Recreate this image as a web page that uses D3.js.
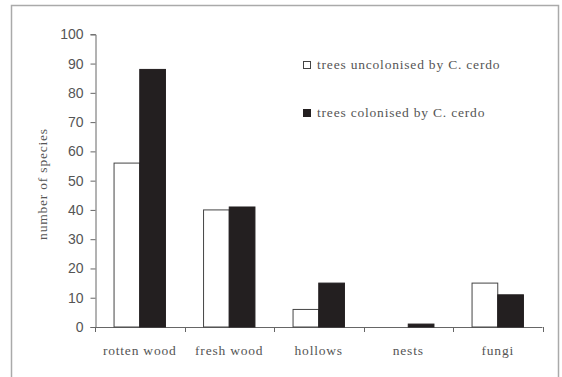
<html>
<head>
  <meta charset="utf-8" />
  <script src="https://cdnjs.cloudflare.com/ajax/libs/d3/7.8.5/d3.min.js"></script>
  <style>
    body { margin: 0; background: #fff; }
    .yaxis path.domain, .xaxis path.domain { stroke: #666; }
    .yaxis .tick line, .xaxis .tick line { stroke: #666; }
    .yaxis .tick text { fill: #555; font-family: "Liberation Sans", Arial, sans-serif; font-size: 14px; }
    .serif { font-family: "Liberation Serif", "Times New Roman", serif; font-size: 13.5px; letter-spacing: 0.8px; fill: #555; }
  </style>
</head>
<body>
  <svg></svg>
  <script>
  var categories = ["rotten wood", "fresh wood", "hollows", "nests", "fungi"];
  var uncolonised = [56, 40, 6, 0, 15];
  var colonised = [88, 41, 15, 1, 11];
  var yTicks = [0, 10, 20, 30, 40, 50, 60, 70, 80, 90, 100];
  var seriesNames = ["trees uncolonised by C. cerdo", "trees colonised by C. cerdo"];

  var svg = d3.select("svg").attr("width", 562).attr("height", 377);

  // outer frame, open at the bottom
  svg.append("path")
      .attr("d", "M11.5,380 V5.5 H558.5 V380")
      .attr("fill", "none")
      .attr("stroke", "#aaa")
      .attr("stroke-width", 1.5);

  var xScale = d3.scaleBand().domain(categories).range([95, 542.5]);
  var yScale = d3.scaleLinear().domain([0, 100]).range([327, 34.3]);
  var barW = 25.7;

  // y axis
  svg.append("g")
      .attr("class", "yaxis")
      .attr("transform", "translate(95.5,0)")
      .call(d3.axisLeft(yScale).tickValues(yTicks).tickSize(5).tickPadding(7));

  // x axis with ticks between categories
  var xg = svg.append("g").attr("class", "xaxis");
  xg.append("line")
      .attr("x1", xScale.range()[0]).attr("x2", xScale.range()[1])
      .attr("y1", yScale(0) + 0.5).attr("y2", yScale(0) + 0.5)
      .attr("stroke", "#666");
  xg.selectAll(".sep")
      .data(categories.concat(["end"]))
      .enter().append("line")
      .attr("x1", (d, i) => Math.round(xScale.range()[0] + i * xScale.bandwidth()) + 0.5)
      .attr("x2", (d, i) => Math.round(xScale.range()[0] + i * xScale.bandwidth()) + 0.5)
      .attr("y1", yScale(0)).attr("y2", yScale(0) + 5)
      .attr("stroke", "#666");
  xg.selectAll(".lab")
      .data(categories)
      .enter().append("text")
      .attr("class", "serif")
      .attr("x", d => xScale(d) + xScale.bandwidth() / 2)
      .attr("y", 355)
      .attr("text-anchor", "middle")
      .text(d => d);

  // bars
  var bars = svg.append("g");
  categories.forEach((c, i) => {
    var cx = xScale(c) + xScale.bandwidth() / 2;
    bars.append("rect")
        .attr("x", cx - barW)
        .attr("y", yScale(uncolonised[i]))
        .attr("width", barW)
        .attr("height", yScale(0) - yScale(uncolonised[i]))
        .attr("fill", "#fff")
        .attr("stroke", uncolonised[i] > 0 ? "#444" : "none")
        .attr("stroke-width", 1);
    bars.append("rect")
        .attr("x", cx)
        .attr("y", yScale(colonised[i]))
        .attr("width", barW)
        .attr("height", yScale(0) - yScale(colonised[i]))
        .attr("fill", "#231f20")
        .attr("stroke", "#231f20")
        .attr("stroke-width", 1);
  });

  // y axis title
  svg.append("text")
      .attr("class", "serif")
      .attr("transform", "translate(47,184) rotate(-90)")
      .attr("text-anchor", "middle")
      .text("number of species");

  // legend
  var legend = svg.append("g");
  seriesNames.forEach((s, i) => {
    var y = 61 + i * 48;
    legend.append("rect")
        .attr("x", 303.5).attr("y", y + 0.5)
        .attr("width", 7).attr("height", 7)
        .attr("fill", i == 0 ? "#fff" : "#231f20")
        .attr("stroke", i == 0 ? "#444" : "#231f20");
    legend.append("text")
        .attr("class", "serif")
        .attr("x", 317)
        .attr("y", y + 7.5)
        .text(s);
  });
  </script>
</body>
</html>
